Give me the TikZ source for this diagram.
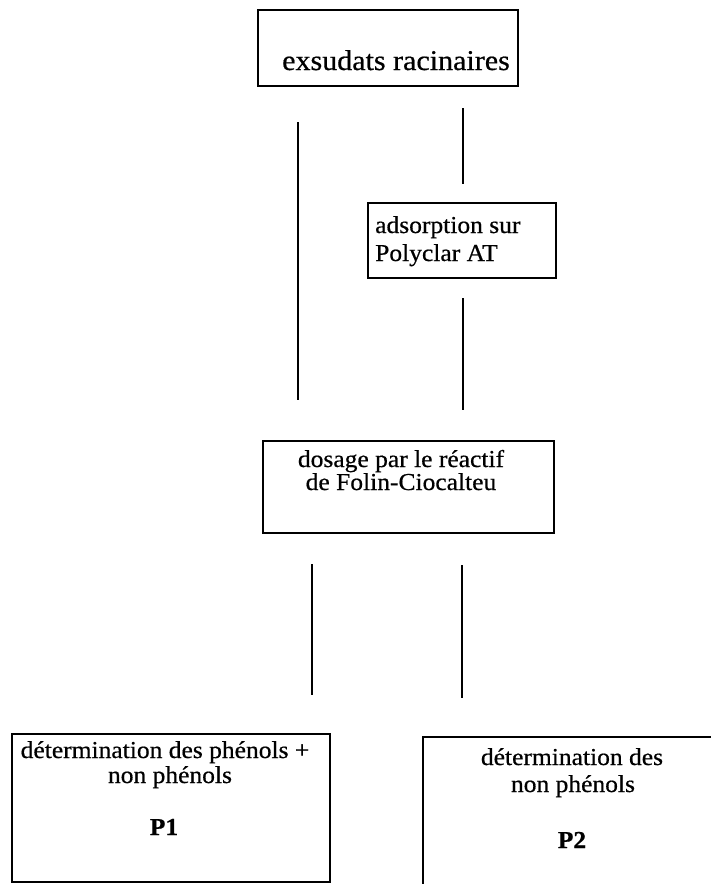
\documentclass[tikz,border=0pt]{standalone}
\usepackage{fontspec}
\setmainfont[FakeStretch=1.05,FakeBold=0.6]{Liberation Serif}
\begin{document}
\begin{tikzpicture}[x=1pt,y=-1pt,
  box/.style={draw=black, line width=2pt, inner sep=0pt},
  conn/.style={draw=black, line width=2pt},
  txt/.style={inner sep=0pt, font=\fontsize{24.3}{24.3}\selectfont},
  bigtxt/.style={inner sep=0pt, font=\fontsize{28.6}{28.6}\selectfont}]
\useasboundingbox (0,0) rectangle (711,884);
% boxes
\node[box, minimum width=260pt, minimum height=76pt] (b1) at (388,48) {};
\node[box, minimum width=188pt, minimum height=75pt] (b2) at (462,240.5) {};
\node[box, minimum width=291pt, minimum height=92pt] (b3) at (408.5,487) {};
\node[box, minimum width=318pt, minimum height=148pt] (b4) at (171,808) {};
\node[box, minimum width=300pt, minimum height=170pt] (b5) at (573,822) {};
% texts
\node[bigtxt, anchor=base west] (t1) at (282,70) {exsudats racinaires};
\node[txt, anchor=base west] (t2a) at (375,233) {adsorption sur};
\node[txt, anchor=base west] (t2b) at (375,261) {Polyclar AT};
\node[txt, anchor=base] (t3a) at (401,467) {dosage par le réactif};
\node[txt, anchor=base] (t3b) at (401,490) {de Folin-Ciocalteu};
\node[txt, anchor=base] (t4a) at (165,758) {détermination des phénols +};
\node[txt, anchor=base] (t4b) at (170,783) {non phénols};
\node[txt, anchor=base, font=\fontsize{24.3}{24.3}\selectfont\bfseries] (t4c) at (164,835) {P1};
\node[txt, anchor=base] (t5a) at (572,765) {détermination des};
\node[txt, anchor=base] (t5b) at (573,792) {non phénols};
\node[txt, anchor=base, font=\fontsize{24.3}{24.3}\selectfont\bfseries] (t5c) at (572,848) {P2};
% connector ends
\coordinate (l1a) at (298,122); \coordinate (l1b) at (298,400);
\coordinate (r1a) at (463,108); \coordinate (r1b) at (463,184);
\coordinate (r2a) at (463,298); \coordinate (r2b) at (463,410);
\coordinate (l2a) at (312,564); \coordinate (l2b) at (312,695);
\coordinate (r3a) at (462,565); \coordinate (r3b) at (462,698);
\draw[conn] (l1a) -- (l1b);
\draw[conn] (r1a) -- (r1b);
\draw[conn] (r2a) -- (r2b);
\draw[conn] (l2a) -- (l2b);
\draw[conn] (r3a) -- (r3b);
\end{tikzpicture}
\end{document}
